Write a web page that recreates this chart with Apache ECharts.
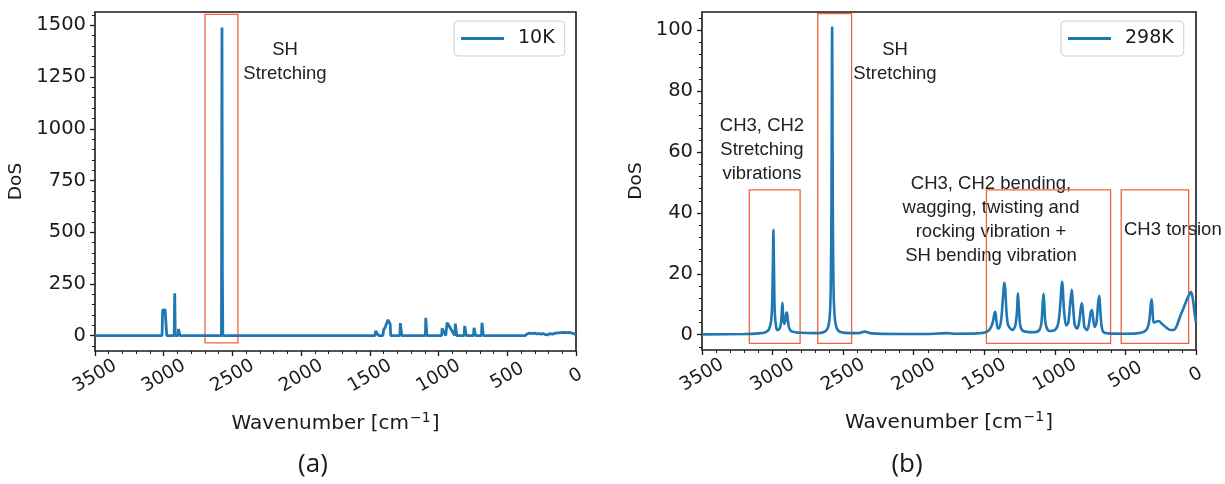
<!DOCTYPE html>
<html>
<head>
<meta charset="utf-8">
<script src="https://cdn.jsdelivr.net/npm/echarts@6/dist/echarts.min.js"></script>
<style>
  html, body { margin: 0; padding: 0; background: #fff; }
  #chart { width: 1225px; height: 484px; }
</style>
</head>
<body>
<div id="chart"></div>
<script>
// 10K spectrum (a): wavenumber [cm-1] and DoS
var wn10K = [3500, 3012, 3008, 3000, 2990, 2982, 2978, 2924, 2920, 2916, 2896, 2892, 2886, 2882,
  2580, 2576, 2573, 2570, 1462, 1458, 1445, 1436, 1405, 1400, 1390, 1380, 1368, 1362, 1352, 1348,
  1282, 1278, 1272, 1268, 1096, 1093, 1088, 1085, 978, 974, 966, 948, 944, 938, 934,
  882, 878, 872, 868, 814, 810, 802, 798, 746, 742, 735, 731, 688, 684, 678, 674,
  370, 355, 340, 330, 315, 300, 285, 270, 255, 240, 225, 205, 190, 170, 150, 130, 110, 90, 70, 50, 30, 15, 0];
var dos10K = [0, 0, 122, 128, 126, 118, 0, 0, 205, 0, 0, 32, 34, 0,
  0, 1490, 300, 0, 0, 22, 20, 0, 0, 28, 38, 42, 76, 72, 55, 0,
  0, 60, 58, 0, 0, 86, 80, 0, 0, 35, 38, 0, 0, 62, 60,
  0, 58, 56, 0, 0, 47, 45, 0, 0, 38, 36, 0, 0, 62, 60, 0,
  0, 8, 12, 18, 10, 12, 8, 10, 7, 10, 5, 4, 10, 7, 12, 13, 14, 15, 14, 15, 12, 10, 2];

// 298K spectrum (b)
var wn298K = [3500, 3200, 3100, 3050, 3025, 3010, 3003, 2998, 2994, 2990, 2985, 2975, 2965, 2950, 2940,
  2935, 2930, 2925, 2918, 2910, 2903, 2898, 2892, 2885, 2870, 2840, 2800, 2700, 2640, 2610, 2595, 2588,
  2583, 2580, 2578, 2576, 2573, 2568, 2560, 2545, 2520, 2450, 2390, 2346, 2300, 2100, 1900, 1760, 1700,
  1550, 1490, 1460, 1440, 1430, 1422, 1414, 1405, 1395, 1380, 1368, 1360, 1356, 1350, 1342, 1330, 1300,
  1280, 1268, 1262, 1255, 1245, 1225, 1150, 1110, 1095, 1085, 1080, 1075, 1065, 1040, 1000, 975, 960,
  950, 945, 935, 920, 905, 890, 880, 872, 860, 845, 830, 815, 808, 800, 790, 772, 760, 745, 737, 728,
  718, 705, 692, 685, 678, 668, 655, 620, 500, 420, 370, 345, 330, 320, 314, 308, 300, 285, 265, 240,
  210, 180, 160, 140, 113, 90, 66, 50, 38, 30, 20, 10, 0];
var dos298K = [0.1, 0.2, 0.4, 0.8, 1.8, 4.5, 10, 22, 34.5, 22, 8, 2.5, 1.5, 2, 4,
  7, 10.5, 6, 3.5, 4.5, 7, 7.3, 5, 2.5, 1.2, 0.8, 0.6, 0.5, 0.8, 2, 6, 15,
  40, 80, 101, 80, 40, 15, 6, 2, 0.9, 0.5, 0.5, 1, 0.4, 0.2, 0.2, 0.5, 0.3,
  0.4, 0.8, 1.8, 4, 6.5, 7.5, 4.5, 2.2, 2, 5, 12, 16.5, 17, 14, 7, 3, 1.5,
  3, 8, 13.6, 9, 3, 1.2, 0.8, 1.5, 4, 11, 13.4, 10, 3.5, 1.2, 1.5, 4, 11,
  17.4, 16, 8, 3, 4, 11, 14.7, 10, 3.5, 2, 3.5, 9, 10.3, 7, 2.5, 1.5, 3, 7.5, 8.1, 5,
  2.5, 4, 11, 12.8, 8, 2.5, 0.8, 0.4, 0.3, 0.4, 0.9, 2, 5, 10, 11.6, 8, 4, 4.2, 4.5, 3.5,
  2.3, 1.5, 1.5, 2.5, 5.9, 8.5, 11.4, 13, 14, 13.5, 11, 7, 4];

// annotation boxes: [wn from, wn to, DoS bottom, DoS top]
var boxes10K = [[2700, 2460, -35, 1553]];
var boxes298K = [[3165, 2805, -2.9, 47.6], [2680, 2440, -2.9, 105.5], [1485, 605, -2.9, 47.6], [530, 52, -2.9, 47.6]];

var yTicks10K = [0, 250, 500, 750, 1000, 1250, 1500];
var yTicks298K = [0, 20, 40, 60, 80, 100];

function zip(xs, ys) {
  return xs.map(function (x, i) { return [x, ys[i]] })
}
function minorValues(majors, step, lo, hi) {
  // minor tick positions between the labelled ticks
  var out = []
  for (var v = Math.ceil(lo / step) * step; v <= hi; v += step) {
    if (majors.indexOf(v) < 0) out.push(Math.round(v * 100) / 100)
  }
  return out
}
function toAreas(list) {
  return list.map(function (b) {
    return [{ xAxis: b[0], yAxis: b[2] }, { xAxis: b[1], yAxis: b[3] }]
  })
}
function plain(v) { return String(v) }

var ink = '#1a1a1a'
var noteStyle = { fill: '#222', fontSize: 18.5, fontFamily: 'Liberation Sans', textAlign: 'center', lineHeight: 24 }

function xAxisFor(gridIndex) {
  return {
    type: 'value', gridIndex: gridIndex, min: 0, max: 3500, interval: 500, inverse: true,
    position: 'bottom',
    name: '{a|Wavenumber [cm}{s|−1}{a|]}', nameLocation: 'middle', nameGap: 60,
    nameTextStyle: {
      rich: {
        a: { color: ink, fontSize: 20, fontFamily: 'DejaVu Sans' },
        s: { color: ink, fontSize: 14, fontFamily: 'DejaVu Sans', padding: [0, 1, 11, 1] }
      }
    },
    axisLine: { show: false, onZero: false },
    axisTick: { show: true, length: 5, lineStyle: { color: ink, width: 1.3 } },
    minorTick: { show: true, splitNumber: 5, length: 3, lineStyle: { color: ink, width: 1 } },
    splitLine: { show: false },
    axisLabel: {
      rotate: 30, margin: 25, align: 'center', verticalAlign: 'middle',
      color: ink, fontSize: 18.5, fontFamily: 'DejaVu Sans', formatter: plain
    }
  }
}
function yAxisFor(gridIndex, min, max, majors) {
  return {
    type: 'value', gridIndex: gridIndex, min: min, max: max, position: 'left',
    name: 'DoS', nameLocation: 'middle', nameGap: gridIndex === 0 ? 69 : 56,
    nameTextStyle: { color: ink, fontSize: 18.5, fontFamily: 'DejaVu Sans' },
    axisLine: { show: false, onZero: false },
    axisTick: { show: true, length: 5, customValues: majors, lineStyle: { color: ink, width: 1.3 } },
    axisLabel: { margin: 9, customValues: majors, color: ink, fontSize: 19.5, fontFamily: 'DejaVu Sans', formatter: plain },
    splitLine: { show: false }
  }
}
function yMinorFor(gridIndex, min, max, ticks) {
  return {
    type: 'value', gridIndex: gridIndex, min: min, max: max, position: 'left',
    axisLine: { show: false, onZero: false },
    axisTick: { show: true, length: 3, customValues: ticks, lineStyle: { color: ink, width: 1 } },
    axisLabel: { show: false },
    splitLine: { show: false }
  }
}

var y10 = [-74.5, 1564.5]
var y298 = [-5.05, 106.05]

var legendBase = {
  orient: 'vertical', icon: 'rect', itemWidth: 43, itemHeight: 3, itemGap: 0,
  padding: [8, 10, 8, 7], borderColor: '#d0d0d0', borderWidth: 1, borderRadius: 4,
  textStyle: { color: ink, fontSize: 19, fontFamily: 'DejaVu Sans', padding: [0, 0, 0, 9] }
}

var option = {
  animation: false,
  backgroundColor: '#fff',
  grid: [
    { left: 95, top: 12, width: 481, height: 339, show: true, borderColor: ink, borderWidth: 1.6, backgroundColor: 'transparent' },
    { left: 702, top: 12, width: 494, height: 338, show: true, borderColor: ink, borderWidth: 1.6, backgroundColor: 'transparent' }
  ],
  legend: [
    Object.assign({ data: ['10K'], left: 454, top: 21 }, legendBase),
    Object.assign({ data: ['298K'], left: 1061, top: 21 }, legendBase)
  ],
  xAxis: [xAxisFor(0), xAxisFor(1)],
  yAxis: [
    yAxisFor(0, y10[0], y10[1], yTicks10K),
    yMinorFor(0, y10[0], y10[1], minorValues(yTicks10K, 50, y10[0], y10[1])),
    yAxisFor(1, y298[0], y298[1], yTicks298K),
    yMinorFor(1, y298[0], y298[1], minorValues(yTicks298K, 4, y298[0], y298[1]))
  ],
  series: [
    {
      name: '10K', type: 'line', xAxisIndex: 0, yAxisIndex: 0,
      data: zip(wn10K, dos10K), showSymbol: false,
      lineStyle: { color: '#1f77b4', width: 2.8 }, itemStyle: { color: '#1f77b4' },
      markArea: {
        silent: true,
        itemStyle: { color: 'rgba(0,0,0,0)', borderColor: '#f0643c', borderWidth: 1.3 },
        label: { show: false },
        data: toAreas(boxes10K)
      }
    },
    {
      name: '298K', type: 'line', xAxisIndex: 1, yAxisIndex: 2,
      data: zip(wn298K, dos298K), showSymbol: false, smooth: 0.3,
      lineStyle: { color: '#1f77b4', width: 2.6 }, itemStyle: { color: '#1f77b4' },
      markArea: {
        silent: true,
        itemStyle: { color: 'rgba(0,0,0,0)', borderColor: '#f0643c', borderWidth: 1.3 },
        label: { show: false },
        data: toAreas(boxes298K)
      }
    }
  ],
  graphic: [
    { type: 'text', style: Object.assign({ text: 'SH\nStretching', x: 285, y: 38 }, noteStyle) },
    { type: 'text', style: Object.assign({ text: 'SH\nStretching', x: 895, y: 38 }, noteStyle) },
    { type: 'text', style: Object.assign({ text: 'CH3, CH2\nStretching\nvibrations', x: 762, y: 114 }, noteStyle) },
    { type: 'text', style: Object.assign({ text: 'CH3, CH2 bending,\nwagging, twisting and\nrocking vibration +\nSH bending vibration', x: 991, y: 172 }, noteStyle) },
    { type: 'text', style: Object.assign({}, noteStyle, { text: 'CH3 torsion', x: 1124, y: 218, textAlign: 'left' }) },
    { type: 'text', style: { text: '(a)', x: 313, y: 452, fill: ink, fontSize: 26, fontFamily: 'Open Sans', textAlign: 'center' } },
    { type: 'text', style: { text: '(b)', x: 907, y: 452, fill: ink, fontSize: 26, fontFamily: 'Open Sans', textAlign: 'center' } }
  ]
}

var myChart = echarts.init(document.getElementById('chart'), null, { renderer: 'canvas' })
myChart.setOption(option)
</script>
</body>
</html>
